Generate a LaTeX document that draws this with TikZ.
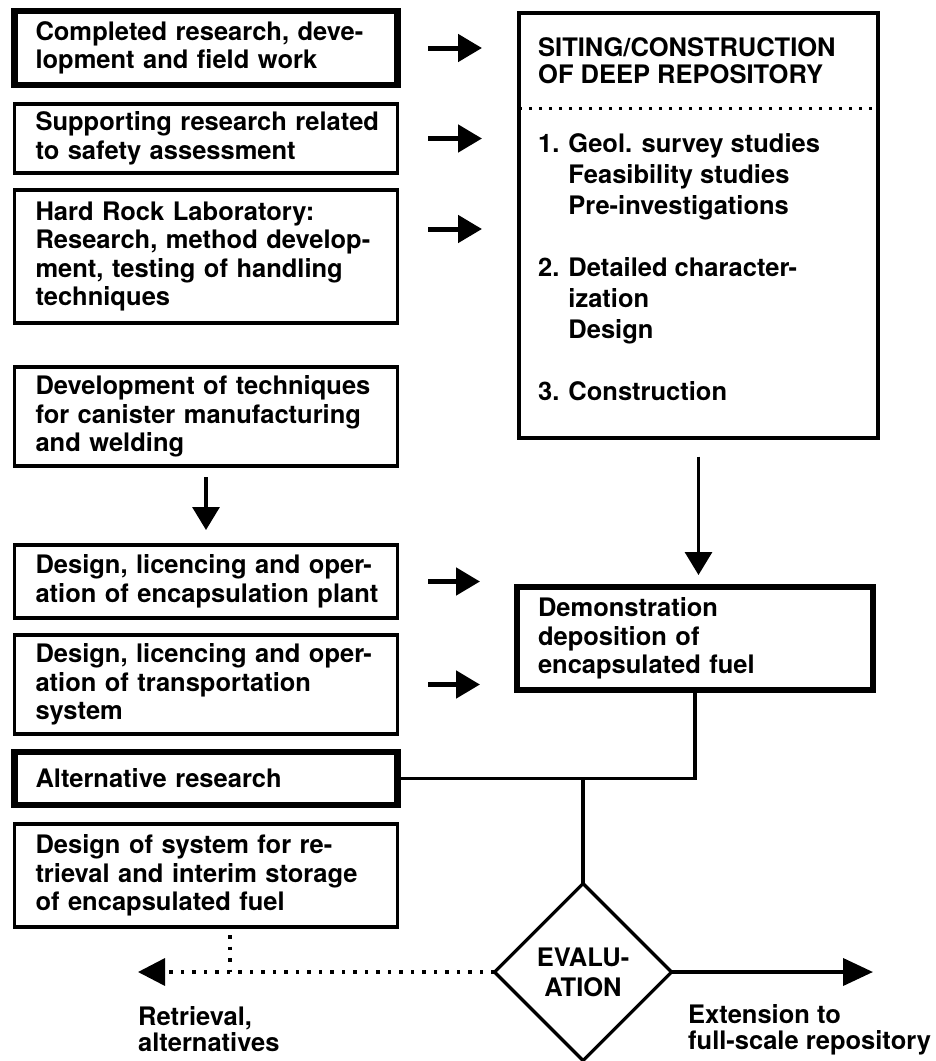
\documentclass[tikz,border=0pt]{standalone}
\usepackage{fontspec}
\setmainfont{TeX Gyre Heros}
\usetikzlibrary{arrows.meta,shapes.geometric}
\newcommand{\boxfont}{\bfseries\fontsize{25.5}{28.5}\selectfont}
\tikzset{
  box/.style={draw, line width=3.2pt, rectangle, outer sep=0pt, inner ysep=0pt,
    inner xsep=21pt, minimum width=383pt, text width=341pt, align=left, font=\boxfont},
  thickbox/.style={box, line width=6.5pt},
  conn/.style={line width=3.2pt},
  bigarrow/.style={line width=5pt, -{Triangle[width=27pt,length=24pt]}},
  downarrow/.style={line width=3.2pt, -{Triangle[width=27pt,length=23pt]}},
  dotline/.style={line width=3.5pt, dash pattern=on 3.5pt off 8pt},
  lbl/.style={inner sep=0pt, align=left, font=\bfseries\fontsize{25.5}{26.5}\selectfont}
}
\begin{document}
\begin{tikzpicture}[x=1pt, y=-1pt, line join=miter]
  \useasboundingbox (0,0) rectangle (936,1061);
  % left column
  \node[thickbox, minimum height=74pt] (compl) at (206,48) {Completed research, deve-\\lopment and field work};
  \node[box, minimum height=69pt] (supp) at (206,138.5) {\mbox{Supporting research related}\\to safety assessment};
  \node[box, minimum height=133pt] (hrl) at (206,256.5) {Hard Rock Laboratory:\\Research, method develop-\\ment, testing of handling\\techniques};
  \node[box, minimum height=99pt] (canis) at (206,416.5) {Development of techniques\\for canister manufacturing\\and welding};
  \node[box, minimum height=73pt] (encap) at (206,581.5) {Design, licencing and oper-\\\mbox{ation of encapsulation plant}};
  \node[box, minimum height=99pt] (transp) at (206,684.5) {Design, licencing and oper-\\ation of transportation\\system};
  \node[thickbox, minimum height=53pt] (alt) at (206,778.5) {Alternative research};
  \node[box, minimum height=103pt] (retr) at (206,875.5) {Design of system for re-\\trieval and interim storage\\of encapsulated fuel};
  % right column
  \node[draw, line width=3.2pt, outer sep=0pt, minimum width=359pt, minimum height=425pt] (siting) at (698.5,225.5) {};
  \node[inner sep=0pt, anchor=base west, font=\bfseries\fontsize{25.5}{27.5}\selectfont] (sitetitle) at (538,56)
    {\begin{tabular}[t]{@{}l@{}}SITING/CONSTRUCTION\\OF DEEP REPOSITORY\end{tabular}};
  \draw[line width=3pt, dash pattern=on 3pt off 7pt] (siting.west |- 0,108) -- (siting.east |- 0,108);
  \node[inner sep=0pt, anchor=base west, font=\bfseries\fontsize{25.5}{31}\selectfont] (sitelist) at (538,152)
    {\begin{tabular}[t]{@{}l@{\hspace{9pt}}l@{}}
      1. & Geol. survey studies\\
         & Feasibility studies\\
         & Pre-investigations\\[31pt]
      2. & Detailed character-\\
         & ization\\
         & Design\\[31pt]
      3. & Construction
    \end{tabular}};
  \node[thickbox, minimum width=356pt, text width=314pt, minimum height=103pt] (demo) at (695,638.5)
    {Demonstration\\deposition of\\encapsulated fuel};
  \node[draw, diamond, line width=3.2pt, outer sep=0pt, inner sep=0pt, minimum width=177pt, minimum height=177pt,
    align=center, font=\bfseries\fontsize{25.5}{30}\selectfont] (eval) at (583,972) {EVALU-\\ATION};
  % arrows into the repository
  \draw[bigarrow, shorten <=30.5pt, shorten >=37pt] (compl.east) -- (compl.east -| siting.west);
  \draw[bigarrow, shorten <=30.5pt, shorten >=37pt] (supp.east) -- (supp.east -| siting.west);
  \draw[bigarrow, shorten <=30.5pt, shorten >=37pt] ([yshift=27.5pt]hrl.east) -- ([yshift=27.5pt]hrl.east -| siting.west);
  \draw[bigarrow, shorten <=30.5pt, shorten >=37pt] (encap.east) -- (encap.east -| demo.west);
  \draw[bigarrow, shorten <=30.5pt, shorten >=37pt] (transp.east) -- (transp.east -| demo.west);
  \draw[downarrow, shorten <=11pt, shorten >=15pt] (canis.south) -- (encap.north);
  \draw[downarrow, shorten <=18.5pt, shorten >=12pt] (siting.south) -- (siting.south |- demo.north);
  % evaluation
  \draw[conn] (demo.south) -- (demo.south |- alt.east) -- (alt.east);
  \draw[conn] (eval.north) -- (eval.north |- alt.east);
  \coordinate (back) at (138,972);
  \coordinate (ext) at (873,972);
  \draw[dotline, -{Triangle[width=27pt,length=27pt]}] (eval.west) -- (back);
  \draw[dotline] ([xshift=24pt,yshift=-8pt]retr.south) -- ([xshift=24pt]retr.south |- eval.west);
  \draw[line width=4pt, -{Triangle[width=27pt,length=30pt]}] (eval.east) -- (ext);
  \node[lbl, anchor=north west] (backlbl) at (138,1006) {Retrieval,\\alternatives};
  \node[lbl, anchor=north west] (extlbl) at (688,1004) {Extension to\\full-scale repository};
\end{tikzpicture}
\end{document}
